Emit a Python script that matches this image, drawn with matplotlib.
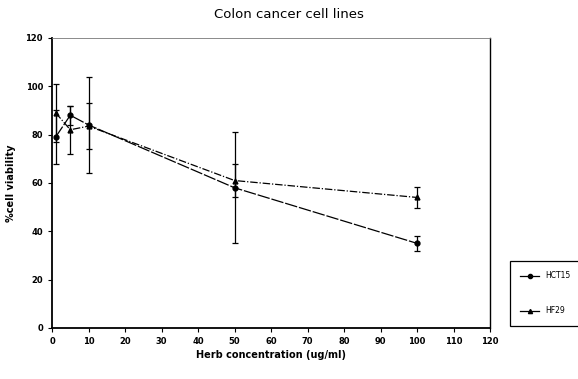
import matplotlib
matplotlib.use('Agg')
import matplotlib.pyplot as plt
from matplotlib.lines import Line2D

# herb concentration (ug/ml)
conc = [1, 5, 10, 50, 100]

# % cell viability, mean and error
hct15 = [79, 88, 84, 58, 35]
hct15_err = [11, 4, 20, 23, 3]
hf29 = [89, 82, 83.5, 61, 54]
hf29_err = [12, 10, 9.5, 7, 4.5]

xticks = list(range(0, 121, 10))
yticks = list(range(0, 121, 20))

fig = plt.figure(figsize=(5.78, 3.79), dpi=100)
ax = fig.add_axes([0.090, 0.1346, 0.758, 0.7654])

ls1 = (0, (10, 1.5))
ls2 = (0, (6, 1.5, 1, 1.5))
ax.errorbar(conc, hct15, yerr=hct15_err, color='black', lw=0.9,
            marker='o', ms=3.5, capsize=2, elinewidth=0.9, capthick=0.9,
            linestyle=ls1)
ax.errorbar(conc, hf29, yerr=hf29_err, color='black', lw=0.9,
            marker='^', ms=3.5, capsize=2, elinewidth=0.9, capthick=0.9,
            linestyle=ls2)

ax.set_xlim(0, 120)
ax.set_ylim(0, 120)
ax.set_xticks(xticks)
ax.set_yticks(yticks)
ax.tick_params(labelsize=6, length=3, width=0.8)
for lab in ax.get_xticklabels() + ax.get_yticklabels():
    lab.set_fontweight('bold')

ax.spines['left'].set_linewidth(1.3)
ax.spines['bottom'].set_linewidth(1.3)
ax.spines['top'].set_linewidth(0.6)
ax.spines['top'].set_color('#777777')
ax.spines['right'].set_linewidth(1.0)

ax.set_xlabel('Herb concentration (ug/ml)', fontsize=7, fontweight='bold', labelpad=3)
ax.set_ylabel('%cell viability', fontsize=7, fontweight='bold', labelpad=7)
fig.text(0.5, 0.963, 'Colon cancer cell lines', ha='center', va='center', fontsize=9.5)

handles = [Line2D([], [], color='black', lw=0.9, marker='o', ms=3),
           Line2D([], [], color='black', lw=0.9, marker='^', ms=3)]
leg = fig.legend(handles, ['HCT15', 'HF29'], loc='lower left',
                 bbox_to_anchor=(0.875, 0.13, 0.135, 0.195),
                 mode='expand', fontsize=5.5, labelspacing=3.4, handlelength=2.5,
                 borderpad=1.4, fancybox=False, edgecolor='black', framealpha=1)
leg.get_frame().set_linewidth(0.9)

fig.savefig('out.png', dpi=100)
